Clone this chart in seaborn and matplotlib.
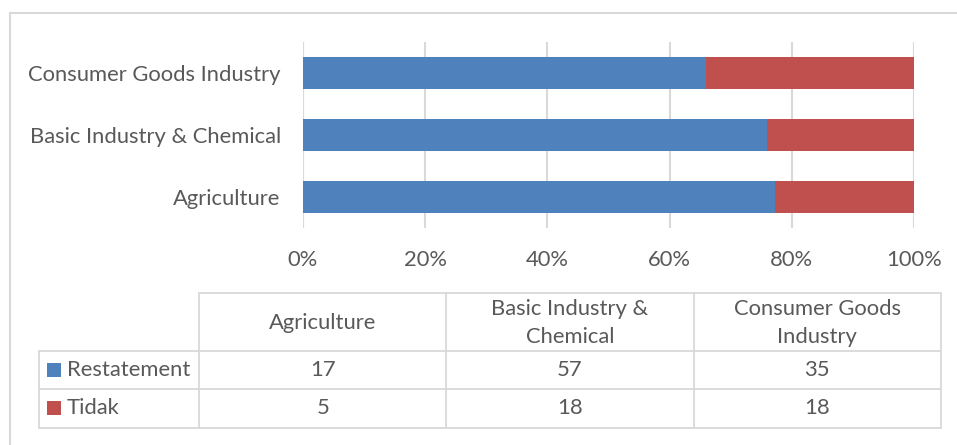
import matplotlib
matplotlib.use("Agg")
import matplotlib.pyplot as plt
from matplotlib.lines import Line2D
from matplotlib.patches import Rectangle
import numpy as np
import pandas as pd
import seaborn as sns

# Sector counts
sectors = ["Agriculture", "Basic Industry & Chemical", "Consumer Goods Industry"]
sector_headers = ["Agriculture", "Basic Industry &\nChemical", "Consumer Goods\nIndustry"]
restatement = [17, 57, 35]
tidak = [5, 18, 18]
series_names = ["Restatement", "Tidak"]
tick_labels = ["0%", "20%", "40%", "60%", "80%", "100%"]

BLUE = "#4F81BD"
RED = "#C0504D"
GRID = "#D9D9D9"
TEXT = "#595959"

sns.set_theme(style="white")
plt.rcParams["font.family"] = ["Lato", "DejaVu Sans"]

df = pd.DataFrame({"sector": sectors, "restatement": restatement, "tidak": tidak})
total = df["restatement"] + df["tidak"]
df["pct_restatement"] = df["restatement"] / total * 100
df["pct_cum"] = (df["restatement"] + df["tidak"]) / total * 100
order = sectors[::-1]

W, H = 957, 445
fig = plt.figure(figsize=(W / 100, H / 100), dpi=100)

# outer chart frame
fig.add_artist(Line2D([10 / W, 10 / W], [0, 1 - 13 / H], color=GRID, lw=1.5))
fig.add_artist(Line2D([10 / W, 1], [1 - 13 / H, 1 - 13 / H], color=GRID, lw=1.5))

x0, x1, y0, y1 = 303, 914, 42, 228
ax = fig.add_axes([x0 / W, 1 - y1 / H, (x1 - x0) / W, (y1 - y0) / H])

bar_w = 32 / 62
sns.barplot(data=df, y="sector", x="pct_cum", order=order, color=RED,
            saturation=1, width=bar_w, orient="h", ax=ax)
sns.barplot(data=df, y="sector", x="pct_restatement", order=order, color=BLUE,
            saturation=1, width=bar_w, orient="h", ax=ax)
for p in ax.patches:
    p.set_linewidth(0)

fs = 15.8
ax.set_xlim(0, 100)
ax.set_ylim(2.5, -0.5)
ax.set_xticks(np.linspace(0, 100, len(tick_labels)))
ax.set_xticklabels(tick_labels)
ax.xaxis.grid(True, color=GRID, lw=1.5)
ax.set_axisbelow(True)
for s in ax.spines.values():
    s.set_visible(False)
ax.axvline(0, color=GRID, lw=1.5, zorder=0.5)
ax.set_xlabel("")
ax.set_ylabel("")
ax.tick_params(axis="x", length=0, pad=16, labelsize=fs, labelcolor=TEXT)
ax.tick_params(axis="y", length=0, pad=16, labelsize=fs, labelcolor=TEXT)

# data table below the chart
tab = fig.add_axes([0, 0, 1, 1])
tab.set_xlim(0, W)
tab.set_ylim(H, 0)
tab.axis("off")

cols = [199, 446.3, 693.7, 941]
rows = [292.7, 350.7, 389, 427.5]
legend_left = 39
lc = dict(color=GRID, lw=1.3)
tab.plot([cols[0], cols[-1]], [rows[0], rows[0]], **lc)
for r in rows[1:]:
    tab.plot([legend_left, cols[-1]], [r, r], **lc)
for c in cols:
    tab.plot([c, c], [rows[0], rows[-1]], **lc)
tab.plot([legend_left, legend_left], [rows[1], rows[-1]], **lc)

for i, h in enumerate(sector_headers):
    cx = (cols[i] + cols[i + 1]) / 2
    tab.text(cx, (rows[0] + rows[1]) / 2 + 1, h, ha="center", va="center",
             fontsize=fs, color=TEXT, linespacing=1.5)
for j, (name, vals, col) in enumerate(zip(series_names, [restatement, tidak], [BLUE, RED])):
    cy = (rows[j + 1] + rows[j + 2]) / 2
    tab.add_patch(Rectangle((47, cy - 7), 14, 14, color=col, lw=0))
    tab.text(67, cy, name, ha="left", va="center", fontsize=fs, color=TEXT)
    for i, v in enumerate(vals):
        cx = (cols[i] + cols[i + 1]) / 2
        tab.text(cx, cy, str(v), ha="center", va="center", fontsize=fs, color=TEXT)

fig.savefig("out.png", dpi=100)
